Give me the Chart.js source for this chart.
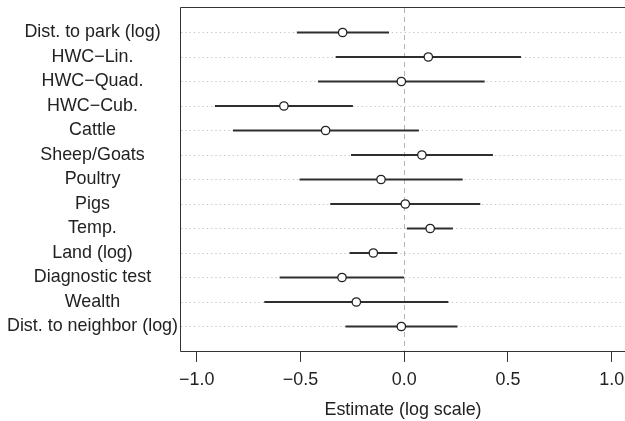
<!DOCTYPE html>
<html>
<head>
<meta charset="utf-8">
<script src="https://cdn.jsdelivr.net/npm/chart.js@4"></script>
<style>
  html, body { margin: 0; padding: 0; background: #fff; }
  canvas { display: block; }
</style>
</head>
<body>
<canvas id="forestCanvas" width="625" height="421"></canvas>
<script>
const categories = ['Dist. to park (log)', 'HWC\u2212Lin.', 'HWC\u2212Quad.', 'HWC\u2212Cub.', 'Cattle', 'Sheep/Goats',
    'Poultry', 'Pigs', 'Temp.', 'Land (log)', 'Diagnostic test', 'Wealth', 'Dist. to neighbor (log)'];
const estimates = [-0.297, 0.116, -0.014, -0.580, -0.379, 0.085, -0.112, 0.005, 0.125, -0.149, -0.300, -0.231, -0.014];
const lower = [-0.516, -0.329, -0.414, -0.911, -0.824, -0.255, -0.503, -0.355, 0.014, -0.262, -0.599, -0.673, -0.282];
const upper = [-0.075, 0.561, 0.386, -0.249, 0.069, 0.426, 0.280, 0.365, 0.233, -0.035, 0.0, 0.211, 0.255];
const xTicks = [-1.0, -0.5, 0.0, 0.5, 1.0];
const rows = categories.map((c, i) => i + 1);

const font = { family: '"Liberation Sans", Arial, sans-serif', size: 17.9 };

// frame round the plot (right side falls off the canvas in the original)
const frame = {
    id: 'frame',
    afterDraw(chart) {
        const a = chart.chartArea, c = chart.ctx;
        c.save();
        c.fillStyle = '#fff';
        c.fillRect(chart.width - 1, a.top, 1, a.bottom - a.top + 1);
        c.strokeStyle = '#333';
        c.lineWidth = 1;
        c.beginPath();
        c.moveTo(chart.width + 2, Math.round(a.top) - 0.5);
        c.lineTo(Math.round(a.left) - 0.5, Math.round(a.top) - 0.5);
        c.lineTo(Math.round(a.left) - 0.5, Math.round(a.bottom) + 0.5);
        c.lineTo(chart.width + 2, Math.round(a.bottom) + 0.5);
        c.stroke();
        c.restore();
    }
};

const ctx = document.getElementById('forestCanvas').getContext('2d');

new Chart(ctx, {
    type: 'bar',
    data: {
        datasets: [{
            type: 'scatter',
            data: estimates.map((e, i) => ({ x: e, y: rows[i] })),
            pointStyle: 'circle',
            pointRadius: 4.2,
            pointBorderWidth: 1.3,
            pointBorderColor: '#222',
            pointBackgroundColor: '#fff',
            order: 0
        }, {
            type: 'bar',
            indexAxis: 'y',
            data: lower.map((l, i) => ({ x: [l, upper[i]], y: rows[i] })),
            backgroundColor: '#2e2e2e',
            barThickness: 1.2,
            order: 1
        }]
    },
    options: {
        responsive: false,
        animation: false,
        indexAxis: 'y',
        layout: { autoPadding: false, padding: { top: 8, left: 0, right: 0, bottom: 0 } },
        plugins: {
            legend: { display: false },
            tooltip: { enabled: false }
        },
        scales: {
            x: {
                type: 'linear',
                min: -1.076,
                max: 1.064,
                afterBuildTicks: s => { s.ticks = xTicks.map(v => ({ value: v })); },
                afterFit: s => { s.height = 70; },
                ticks: {
                    // padding 0 keeps the "1.0" label from shrinking the plot; lineHeight pushes labels down
                    font: Object.assign({ lineHeight: 2.0 }, font),
                    color: '#222',
                    padding: 0,
                    maxRotation: 0,
                    callback: v => Number(v).toFixed(1).replace('-', '\u2212')
                },
                grid: {
                    color: c => (c.tick && c.tick.value === 0) ? '#b5b5b5' : 'rgba(0,0,0,0)',
                    lineWidth: 1,
                    drawTicks: true,
                    tickLength: 11,
                    tickColor: '#333',
                    tickWidth: 1
                },
                border: { display: false, dash: [5, 4] },
                title: {
                    display: true,
                    text: 'Estimate (log scale)',
                    font: font,
                    color: '#222',
                    padding: { top: 0, bottom: 0 }
                }
            },
            y: {
                type: 'linear',
                reverse: true,
                min: 0,
                max: categories.length + 1,
                offset: false,
                afterBuildTicks: s => { s.ticks = rows.map(v => ({ value: v })); },
                afterFit: s => { s.width = 181; s.paddingTop = 0; s.paddingBottom = 0; },
                ticks: {
                    font: font,
                    color: '#222',
                    crossAlign: 'center',
                    padding: 3,
                    callback: v => categories[v - 1]
                },
                grid: {
                    offset: false,
                    color: '#c4c4c4',
                    lineWidth: 1,
                    drawTicks: false
                },
                border: { display: false, dash: [1.3, 3] }
            }
        }
    },
    plugins: [frame]
});
</script>
</body>
</html>
